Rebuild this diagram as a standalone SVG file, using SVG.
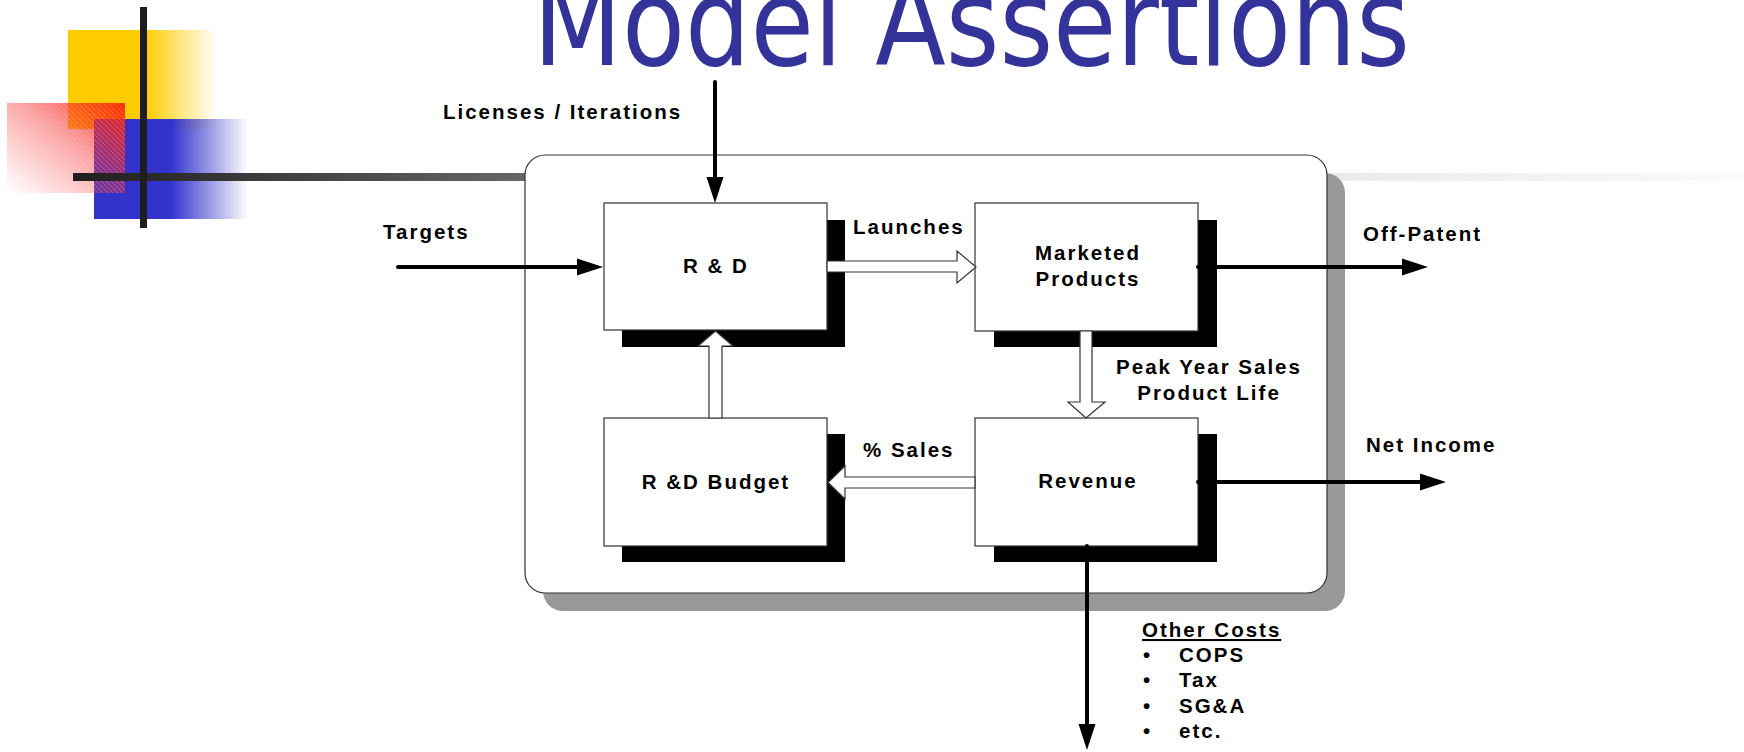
<svg xmlns="http://www.w3.org/2000/svg" width="1744" height="752" viewBox="0 0 1744 752">
  <defs>
    <style>
      .lbl { font-family: "Liberation Sans", Arial, sans-serif; font-weight: bold; font-size: 20.5px; letter-spacing: 2px; fill: #000; }
      .mid { text-anchor: middle; }
      .box { fill: #fff; stroke: #333; stroke-width: 1.2; }
      .shadow { fill: #000; }
      .hollow { fill: #fff; stroke: #333; stroke-width: 1.2; stroke-linejoin: miter; }
      .flow { fill: none; stroke: #000; stroke-width: 4; stroke-linecap: round; marker-end: url(#head); }
    </style>
    <marker id="head" markerUnits="userSpaceOnUse" markerWidth="27" markerHeight="18" refX="0" refY="8.5" orient="auto" overflow="visible">
      <path d="M0,0 L26,8.5 L0,17 Z" fill="#000"/>
    </marker>
    <linearGradient id="yellowFade" gradientUnits="userSpaceOnUse" x1="68" y1="0" x2="217" y2="0">
      <stop offset="0" stop-color="#ffcc00"/>
      <stop offset="0.52" stop-color="#ffcc00"/>
      <stop offset="1" stop-color="#ffcc00" stop-opacity="0"/>
    </linearGradient>
    <linearGradient id="blueFade" gradientUnits="userSpaceOnUse" x1="94" y1="0" x2="248" y2="0">
      <stop offset="0" stop-color="#3333cc"/>
      <stop offset="0.5" stop-color="#3333cc"/>
      <stop offset="1" stop-color="#3333cc" stop-opacity="0"/>
    </linearGradient>
    <linearGradient id="redFade" x1="1" y1="0" x2="0" y2="1">
      <stop offset="0" stop-color="#ff2200" stop-opacity="0.95"/>
      <stop offset="0.45" stop-color="#ff3030" stop-opacity="0.45"/>
      <stop offset="1" stop-color="#ff4040" stop-opacity="0"/>
    </linearGradient>
    <linearGradient id="ruleFade" gradientUnits="userSpaceOnUse" x1="73" y1="0" x2="1744" y2="0">
      <stop offset="0" stop-color="#1e1e1e"/>
      <stop offset="0.27" stop-color="#666666"/>
      <stop offset="0.76" stop-color="#ebebeb"/>
      <stop offset="1" stop-color="#fbfbfb"/>
    </linearGradient>
    <pattern id="hatch" patternUnits="userSpaceOnUse" width="5" height="5">
      <path d="M-1,-1 L6,6" stroke="#fff" stroke-width="0.8"/>
    </pattern>
  </defs>

  <!-- corner emblem -->
  <g id="emblem">
    <rect x="0" y="0" width="1744" height="752" fill="#fff"/>
    <rect x="68" y="30" width="149" height="99" fill="url(#yellowFade)"/>
    <rect x="94" y="119" width="154" height="100" fill="url(#blueFade)"/>
    <rect x="7" y="103" width="118" height="90" fill="url(#redFade)"/>
    <rect x="7" y="103" width="118" height="90" fill="url(#hatch)" opacity="0.3"/>
    <rect x="73" y="173" width="1671" height="8" fill="url(#ruleFade)"/>
    <rect x="140" y="7" width="7" height="221" fill="#1e1e1e"/>
  </g>

  <!-- heading -->
  <text id="title" x="533" y="65" font-family="DejaVu Sans, Verdana, sans-serif" font-size="122" textLength="877" lengthAdjust="spacingAndGlyphs" fill="#333399">Model Assertions</text>

  <!-- enclosing frame -->
  <g id="frame">
    <rect x="543" y="173" width="802" height="438" rx="20" fill="#999"/>
    <rect x="525" y="155" width="802" height="438" rx="20" fill="#fff" stroke="#333" stroke-width="1.2"/>
  </g>

  <g id="rd">
    <rect class="shadow" x="622" y="220" width="223" height="127"/>
    <rect class="box" x="604" y="203" width="223" height="127"/>
    <text class="lbl mid" x="716" y="273">R &amp; D</text>
  </g>

  <g id="marketed">
    <rect class="shadow" x="994" y="220" width="223" height="127"/>
    <rect class="box" x="975" y="203" width="223" height="128"/>
    <text class="lbl mid" x="1088" y="260">Marketed</text>
    <text class="lbl mid" x="1088" y="286">Products</text>
  </g>

  <g id="budget">
    <rect class="shadow" x="622" y="434" width="223" height="128"/>
    <rect class="box" x="604" y="418" width="223" height="128"/>
    <text class="lbl mid" x="716" y="489">R &amp;D Budget</text>
  </g>

  <g id="revenue">
    <rect class="shadow" x="994" y="434" width="223" height="128"/>
    <rect class="box" x="975" y="418" width="223" height="128"/>
    <text class="lbl mid" x="1088" y="488">Revenue</text>
  </g>

  <g id="connectors">
    <!-- inputs -->
    <line class="flow" x1="398" y1="267" x2="577" y2="267"/>
    <line class="flow" x1="715" y1="82" x2="715" y2="177"/>
    <!-- outputs -->
    <line class="flow" x1="1198" y1="267" x2="1402" y2="267"/>
    <line class="flow" x1="1198" y1="482" x2="1420" y2="482"/>
    <line class="flow" x1="1087" y1="546" x2="1087" y2="724"/>
    <!-- internal flows -->
    <path class="hollow" d="M827,261 H957 V251 L976,267 L957,283 V272 H827 Z"/>
    <path class="hollow" d="M1080,331 V402 H1068 L1086,418 L1105,402 H1092 V331 Z"/>
    <path class="hollow" d="M975,477 H845 V466 L828,482.5 L845,499 V488 H975 Z"/>
    <path class="hollow" d="M709,418 V346 H698 L715.5,331 L733,346 H722 V418 Z"/>

    <text class="lbl" x="443" y="119">Licenses / Iterations</text>
    <text class="lbl" x="383" y="239">Targets</text>
    <text class="lbl" x="853" y="234">Launches</text>
    <text class="lbl mid" x="1209" y="374">Peak Year Sales</text>
    <text class="lbl mid" x="1209" y="400">Product Life</text>
    <text class="lbl" x="863" y="457">% Sales</text>
    <text class="lbl" x="1363" y="241">Off-Patent</text>
    <text class="lbl" x="1366" y="452">Net Income</text>

    <text class="lbl" x="1142" y="637" text-decoration="underline">Other Costs</text>
    <text class="lbl" x="1143" y="662">•</text>
    <text class="lbl" x="1179" y="662">COPS</text>
    <text class="lbl" x="1143" y="687">•</text>
    <text class="lbl" x="1179" y="687">Tax</text>
    <text class="lbl" x="1143" y="713">•</text>
    <text class="lbl" x="1179" y="713">SG&amp;A</text>
    <text class="lbl" x="1143" y="738">•</text>
    <text class="lbl" x="1179" y="738">etc.</text>
  </g>
</svg>
